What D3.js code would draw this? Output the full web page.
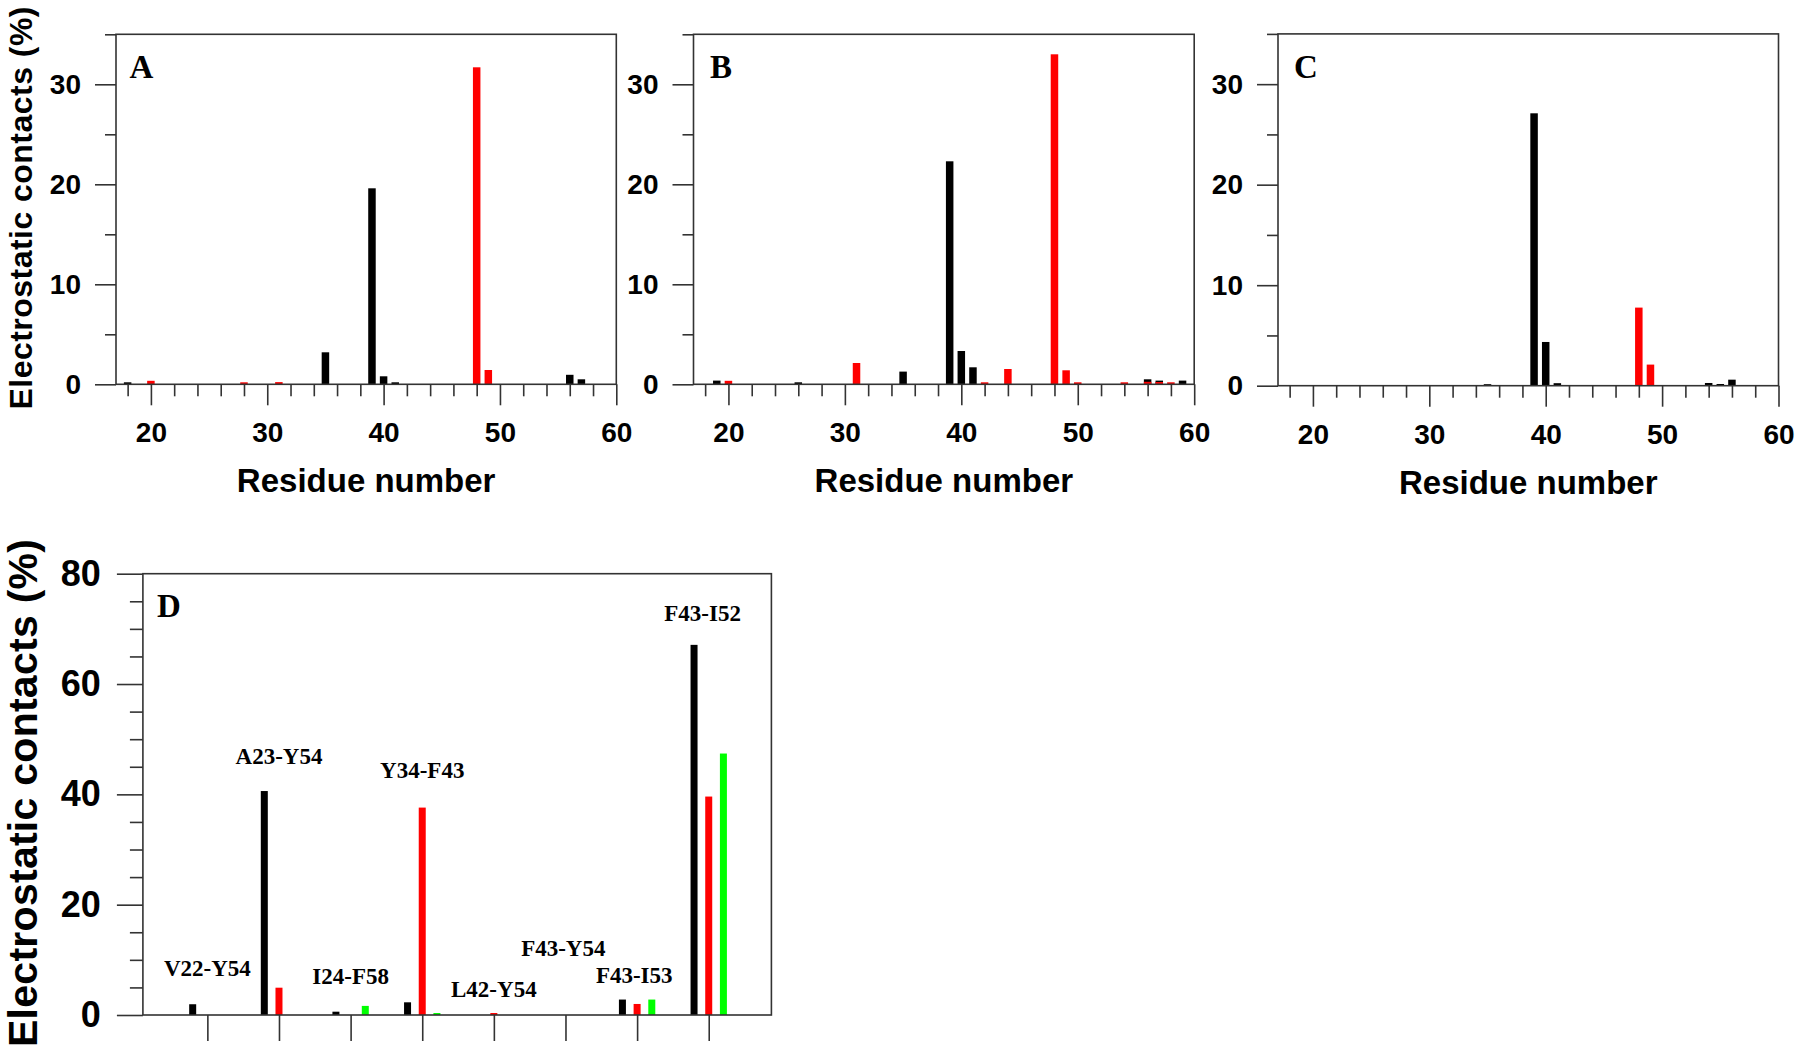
<!DOCTYPE html>
<html>
<head>
<meta charset="utf-8">
<script src="https://cdn.jsdelivr.net/npm/d3@7"></script>
<style>
  html, body { margin: 0; padding: 0; background: #fff; }
  svg { display: block; }
</style>
</head>
<body>
<svg id="chart" width="1800" height="1054"></svg>
<script>
// ---------------- DATA ----------------
// Panel A
const aBlackResidues = [18, 35, 39, 40, 41, 56, 57];
const aBlackValues   = [0.2, 3.2, 19.6, 0.8, 0.2, 0.95, 0.5];
const aRedResidues   = [20, 28, 31, 48, 49];
const aRedValues     = [0.35, 0.2, 0.22, 31.7, 1.43];
// Panel B
const bBlackResidues = [19, 26, 35, 39, 40, 41, 56, 57, 59];
const bBlackValues   = [0.37, 0.2, 1.27, 22.3, 3.33, 1.7, 0.5, 0.37, 0.37];
const bRedResidues   = [20, 31, 42, 44, 48, 49, 50, 54, 56, 57, 58];
const bRedValues     = [0.35, 2.13, 0.2, 1.53, 33.0, 1.4, 0.2, 0.2, 0.25, 0.23, 0.2];
// Panel C
const cBlackResidues = [35, 39, 40, 41, 54, 55, 56];
const cBlackValues   = [0.15, 27.1, 4.35, 0.25, 0.27, 0.17, 0.6];
const cRedResidues   = [48, 49];
const cRedValues     = [7.77, 2.1];
// Panel D
const pairLabels = ["V22-Y54", "A23-Y54", "I24-F58", "Y34-F43", "L42-Y54", "F43-Y54", "F43-I53", "F43-I52"];
const dBlack = [1.95, 40.6, 0.6, 2.3, 0, 0, 2.8, 67.1];
const dRed   = [0, 4.95, 0, 37.6, 0.36, 0, 2.0, 39.6];
const dGreen = [0, 0, 1.65, 0.36, 0, 0, 2.8, 47.4];
const dLabelValue = [7.1, 45.5, 5.6, 42.9, 3.2, 10.7, 5.75, 71.4];
const dLabelShift = [0, 0, 0, 0, 0, -0.03, -0.04, -0.085];

// Tick values
const residueMajorTicks = [20, 30, 40, 50, 60];
const residueMinorTicks = [18, 22, 24, 26, 28, 32, 34, 36, 38, 42, 44, 46, 48, 52, 54, 56, 58];
const contactMajorTicks = [0, 10, 20, 30];
const contactMinorTicks = [5, 15, 25, 35];
const dMajorTicks = [0, 20, 40, 60, 80];
const dMinorTicks = [5, 10, 15, 25, 30, 35, 45, 50, 55, 65, 70, 75];

// ---------------- DRAW ----------------
const svg = d3.select("#chart");
const LINE = "#333";
const SANS = "'Liberation Sans', Arial, sans-serif";
const SERIF = "'Liberation Serif', 'Times New Roman', serif";

function zip(xs, vs) { return xs.map((x, i) => ({ x, v: vs[i] })); }

function styleAxis(g, fontSize) {
  g.select(".domain").remove();
  g.selectAll(".tick line").attr("stroke", LINE).attr("stroke-width", 1.6);
  g.selectAll(".tick text")
    .attr("fill", "#000")
    .style("font-family", SANS)
    .style("font-weight", "bold")
    .style("font-size", fontSize + "px");
}

function residuePanel(cfg) {
  const x = d3.scaleLinear().domain([17, 60]).range(cfg.xr);
  const y = d3.scaleLinear().domain([0, 35]).range(cfg.yr);
  const g = svg.append("g");
  const bw = 7.5;

  const series = [
    { data: zip(cfg.blackX, cfg.blackV), color: "#000" },
    { data: zip(cfg.redX, cfg.redV), color: "#ff0000" }
  ];
  series.forEach(s => {
    g.append("g").selectAll("rect").data(s.data).join("rect")
      .attr("x", d => x(d.x) - bw / 2)
      .attr("y", d => y(d.v))
      .attr("width", bw)
      .attr("height", d => y(0) - y(d.v))
      .attr("fill", s.color);
  });

  // frame
  g.append("rect")
    .attr("x", x(17)).attr("y", y(35))
    .attr("width", x(60) - x(17)).attr("height", y(0) - y(35))
    .attr("fill", "none").attr("stroke", LINE).attr("stroke-width", 1.6);

  // y axis
  g.append("g").attr("transform", `translate(${x(17)},0)`)
    .call(d3.axisLeft(y).tickValues(contactMajorTicks).tickSize(21).tickPadding(14).tickFormat(d3.format("d")))
    .call(a => styleAxis(a, 28));
  g.append("g").attr("transform", `translate(${x(17)},0)`)
    .call(d3.axisLeft(y).tickValues(contactMinorTicks).tickSize(11).tickFormat(""))
    .call(a => styleAxis(a, 28));

  // x axis
  g.append("g").attr("transform", `translate(0,${y(0)})`)
    .call(d3.axisBottom(x).tickValues(residueMajorTicks).tickSize(21).tickPadding(17).tickFormat(d3.format("d")))
    .call(a => styleAxis(a, 28));
  g.append("g").attr("transform", `translate(0,${y(0)})`)
    .call(d3.axisBottom(x).tickValues(residueMinorTicks).tickSize(12).tickFormat(""))
    .call(a => styleAxis(a, 28));

  // panel letter
  g.append("text")
    .attr("x", cfg.letterX).attr("y", cfg.letterY)
    .text(cfg.letter)
    .style("font-family", SERIF).style("font-weight", "bold").style("font-size", "33px");

  // x title
  g.append("text")
    .attr("x", (x(17) + x(60)) / 2).attr("y", cfg.xTitleY)
    .attr("text-anchor", "middle")
    .text("Residue number")
    .style("font-family", SANS).style("font-weight", "bold").style("font-size", "33px");

  if (cfg.yTitle) {
    g.append("text")
      .attr("transform", `translate(31.5,208) rotate(-90)`)
      .attr("text-anchor", "middle")
      .attr("textLength", 403)
      .text("Electrostatic contacts (%)")
      .style("font-family", SANS).style("font-weight", "bold").style("font-size", "32px");
  }
}

residuePanel({
  xr: [116, 616.3], yr: [384.3, 34.3],
  blackX: aBlackResidues, blackV: aBlackValues, redX: aRedResidues, redV: aRedValues,
  letter: "A", letterX: 129.5, letterY: 78, xTitleY: 491.5, yTitle: true
});
residuePanel({
  xr: [693.5, 1194.2], yr: [384.3, 34.3],
  blackX: bBlackResidues, blackV: bBlackValues, redX: bRedResidues, redV: bRedValues,
  letter: "B", letterX: 710, letterY: 78, xTitleY: 491.5, yTitle: false
});
residuePanel({
  xr: [1278, 1778.5], yr: [385.7, 33.9],
  blackX: cBlackResidues, blackV: cBlackValues, redX: cRedResidues, redV: cRedValues,
  letter: "C", letterX: 1294, letterY: 77.5, xTitleY: 493.5, yTitle: false
});

// ---------------- Panel D ----------------
(function () {
  const x = d3.scaleLinear().domain([0.1, 8.875]).range([142.9, 771.4]);
  const y = d3.scaleLinear().domain([0, 80]).range([1015, 573.7]);
  const g = svg.append("g");
  const bw = 7;
  const off = 0.205;
  const idx = pairLabels.map((_, i) => i + 1);

  const series = [
    { vals: dBlack, color: "#000", o: -off },
    { vals: dRed, color: "#ff0000", o: 0 },
    { vals: dGreen, color: "#00ff00", o: off }
  ];
  series.forEach(s => {
    g.append("g").selectAll("rect")
      .data(idx.map((c, i) => ({ c, v: s.vals[i] })).filter(d => d.v > 0))
      .join("rect")
      .attr("x", d => x(d.c + s.o) - bw / 2)
      .attr("y", d => y(d.v))
      .attr("width", bw)
      .attr("height", d => y(0) - y(d.v))
      .attr("fill", s.color);
  });

  g.append("rect")
    .attr("x", x(0.1)).attr("y", y(80))
    .attr("width", x(8.875) - x(0.1)).attr("height", y(0) - y(80))
    .attr("fill", "none").attr("stroke", LINE).attr("stroke-width", 1.6);

  g.append("g").attr("transform", `translate(${x(0.1)},0)`)
    .call(d3.axisLeft(y).tickValues(dMajorTicks).tickSize(26).tickPadding(16).tickFormat(d3.format("d")))
    .call(a => styleAxis(a, 36));
  g.append("g").attr("transform", `translate(${x(0.1)},0)`)
    .call(d3.axisLeft(y).tickValues(dMinorTicks).tickSize(13).tickFormat(""))
    .call(a => styleAxis(a, 36));

  g.append("g").attr("transform", `translate(0,${y(0)})`)
    .call(d3.axisBottom(x).tickValues(idx).tickSize(26).tickFormat(""))
    .call(a => styleAxis(a, 36));

  g.append("g").selectAll("text").data(pairLabels).join("text")
    .attr("x", (d, i) => x(i + 1 + dLabelShift[i]))
    .attr("y", (d, i) => y(dLabelValue[i]))
    .attr("text-anchor", "middle")
    .text(d => d)
    .style("font-family", SERIF).style("font-weight", "bold").style("font-size", "23px");

  g.append("text")
    .attr("x", 157).attr("y", 617)
    .text("D")
    .style("font-family", SERIF).style("font-weight", "bold").style("font-size", "33px");

  g.append("text")
    .attr("transform", `translate(37,793) rotate(-90)`)
    .attr("text-anchor", "middle")
    .attr("textLength", 508)
    .text("Electrostatic contacts (%)")
    .style("font-family", SANS).style("font-weight", "bold").style("font-size", "41px");
})();
</script>
</body>
</html>
